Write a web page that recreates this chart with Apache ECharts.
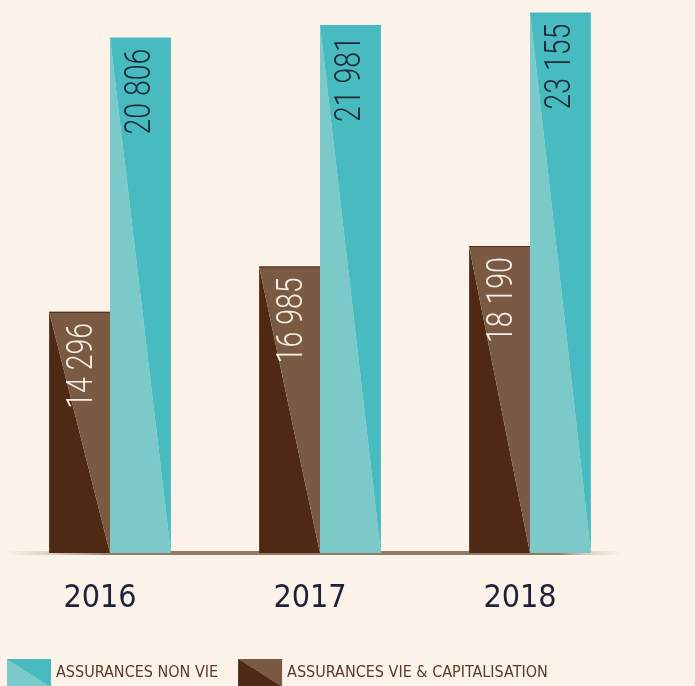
<!DOCTYPE html>
<html>
<head>
<meta charset="utf-8">
<script src="https://cdn.jsdelivr.net/npm/echarts@6/dist/echarts.min.js"></script>
<style>
  html, body { margin: 0; padding: 0; background: #fbf3ea; }
  #chart { width: 695px; height: 686px; }
</style>
</head>
<body>
<div id="chart"></div>
<script>
const years = ['2016', '2017', '2018']
const vieValues = [14296, 16985, 18190]      // assurances vie & capitalisation
const nonVieValues = [20806, 21981, 23155]   // assurances non vie

const FONT = '"DejaVu Sans Condensed", "DejaVu Sans", sans-serif'
const LABEL_FONT = 'Roboto, "DejaVu Sans", sans-serif'

const BROWN_DARK = '#4e2a14'
const BROWN_LIGHT = '#7b5a43'
const TEAL_LIGHT = '#7bc9c9'
const TEAL_DARK = '#48bbc0'

function fmt(v) {
  return String(v).replace(/\B(?=(\d{3})+(?!\d))/g, ' ')
}

// diagonal split: top-left corner to bottom-right corner
function makeRender(side, lowerColor, upperColor, textColor) {
  return function (params, api) {
    const cs = params.coordSys
    const pt = api.coord([api.value(0), api.value(1)])
    const bottom = cs.y + cs.height
    const w = api.size([1, 0])[0] * 0.29
    const x0 = side < 0 ? pt[0] - w : pt[0]
    const x1 = x0 + w
    const y0 = pt[1]
    return {
      type: 'group',
      children: [
        { type: 'polygon', shape: { points: [[x0, y0], [x1, bottom], [x0, bottom]] }, style: { fill: lowerColor } },
        { type: 'polygon', shape: { points: [[x0, y0], [x1, y0], [x1, bottom]] }, style: { fill: upperColor } },
        side < 0 ? { type: 'line', shape: { x1: x0, y1: y0 + 0.5, x2: x1, y2: y0 + 0.5 }, style: { stroke: BROWN_DARK, lineWidth: 1 } } : null,
        {
          type: 'text',
          x: (x0 + x1) / 2 + (side < 0 ? 3 : 0),
          y: y0 + 11,
          rotation: Math.PI / 2,
          scaleX: 0.77,
          style: {
            text: fmt(api.value(1)),
            x: 0, y: 0,
            align: 'right',
            verticalAlign: 'middle',
            fill: textColor,
            fontSize: 37,
            fontWeight: 300,
            fontFamily: LABEL_FONT,
          },
        },
      ].filter(Boolean),
    }
  }
}

// legend swatch: hard split along the diagonal of a 44x28 box
function swatch(lower, upper) {
  return new echarts.graphic.LinearGradient(0.5, 0.5, 0.5 + 0.636 * 0.3, 0.5 - 1.571 * 0.3, [
    { offset: 0, color: lower },
    { offset: 0, color: upper },
    { offset: 1, color: upper },
  ])
}

const chart = echarts.init(document.getElementById('chart'))

chart.setOption({
  backgroundColor: '#fbf3ea',
  animation: false,
  grid: { left: 5, right: 60, top: 0, bottom: 133, outerBoundsMode: 'none' },
  legend: {
    left: 7, top: 659, padding: 0,
    itemWidth: 44, itemHeight: 28, itemGap: 20,
    icon: 'rect',
    textStyle: { color: '#5b3a26', fontSize: 16, fontFamily: FONT },
    data: [
      { name: 'ASSURANCES NON VIE', itemStyle: { color: swatch(TEAL_LIGHT, TEAL_DARK) } },
      { name: 'ASSURANCES VIE & CAPITALISATION', itemStyle: { color: swatch(BROWN_DARK, BROWN_LIGHT) } },
    ],
  },
  xAxis: {
    type: 'category',
    data: years,
    axisTick: { show: false },
    axisLine: {
      lineStyle: {
        width: 4,
        color: new echarts.graphic.LinearGradient(5, 0, 635, 0, [
          { offset: 0, color: 'rgba(200,185,170,0)' },
          { offset: 0.06, color: 'rgba(200,185,170,0.5)' },
          { offset: 0.17, color: 'rgba(120,90,70,0.8)' },
          { offset: 0.88, color: 'rgba(120,90,70,0.8)' },
          { offset: 0.93, color: 'rgba(200,185,170,0.5)' },
          { offset: 0.98, color: 'rgba(200,185,170,0)' },
        ], true),
      },
    },
    axisLabel: {
      color: '#1e2238',
      fontSize: 32,
      fontFamily: FONT,
      margin: 30,
      padding: [0, 20, 0, 0],
    },
  },
  yAxis: [
    { type: 'value', show: false, min: 0, max: 32780, splitLine: { show: false } },
    { type: 'value', show: false, min: -27626, max: 24338, splitLine: { show: false } },
  ],
  series: [
    {
      name: 'ASSURANCES VIE & CAPITALISATION',
      type: 'custom',
      yAxisIndex: 0,
      itemStyle: { color: BROWN_LIGHT },
      renderItem: makeRender(-1, BROWN_DARK, BROWN_LIGHT, '#f6ede3'),
      encode: { x: 0, y: 1 },
      data: years.map((y, i) => [i, vieValues[i]]),
    },
    {
      name: 'ASSURANCES NON VIE',
      type: 'custom',
      yAxisIndex: 1,
      itemStyle: { color: TEAL_DARK },
      renderItem: makeRender(1, TEAL_LIGHT, TEAL_DARK, '#1e2a3a'),
      encode: { x: 0, y: 1 },
      data: years.map((y, i) => [i, nonVieValues[i]]),
    },
  ],
})
</script>
</body>
</html>
